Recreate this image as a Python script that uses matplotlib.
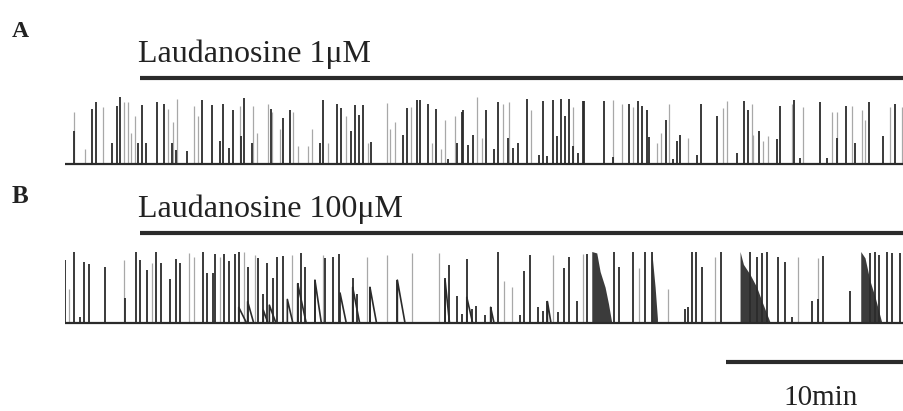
import matplotlib.pyplot as plt
import numpy as np

plt.rcParams['font.family'] = ['Liberation Serif', 'DejaVu Serif']

# time in minutes from start of record, height relative to largest spike
a_dark_t = [0.51, 1.54, 1.74, 2.62, 2.90, 3.09, 4.08, 4.31, 4.53, 5.15, 5.56, 6.03, 6.24, 6.84,
            7.68, 8.24, 8.71, 8.90, 9.19, 9.42, 9.87, 10.07, 10.52, 11.55, 12.27, 12.64, 14.33,
            14.51, 15.26, 15.51, 16.07, 16.29, 16.52, 16.72, 17.19, 18.97, 19.23, 19.76, 19.94,
            20.37, 20.82, 21.54, 22.00, 22.28, 22.38, 22.66, 22.94, 23.63, 24.12, 24.34, 24.91,
            25.15, 25.47, 25.94, 26.63, 26.84, 27.10, 27.43, 27.66, 27.85, 28.09, 28.31, 28.56,
            28.80, 29.08, 29.16, 30.28, 30.81, 31.69, 32.21, 32.43, 32.68, 32.83, 33.76, 34.18,
            34.36, 34.55, 35.49, 35.73, 36.61, 37.73, 38.15, 38.39, 39.01, 39.98, 40.17, 40.96,
            41.29, 42.42, 42.83, 43.35, 43.88, 44.38, 45.19, 45.94, 46.63]
a_dark_h = [0.49, 0.82, 0.92, 0.31, 0.86, 1.00, 0.32, 0.88, 0.32, 0.93, 0.90, 0.32, 0.21, 0.19,
            0.96, 0.88, 0.34, 0.90, 0.24, 0.81, 0.42, 0.98, 0.32, 0.82, 0.68, 0.80, 0.32,
            0.96, 0.90, 0.83, 0.49, 0.88, 0.73, 0.88, 0.33, 0.43, 0.83, 0.95, 0.95,
            0.90, 0.82, 0.07, 0.32, 0.77, 0.80, 0.29, 0.44, 0.80, 0.22, 0.92, 0.39,
            0.24, 0.32, 0.97, 0.13, 0.94, 0.12, 0.96, 0.42, 0.97, 0.72, 0.97, 0.27,
            0.17, 0.94, 0.94, 0.94, 0.11, 0.90, 0.94, 0.86, 0.80, 0.40, 0.65, 0.07,
            0.34, 0.44, 0.13, 0.90, 0.72, 0.17, 0.94, 0.81, 0.49, 0.37, 0.87, 0.96,
            0.09, 0.92, 0.09, 0.39, 0.86, 0.32, 0.92, 0.42, 0.89]
a_faint_t = [0.51, 1.12, 2.15, 3.31, 3.56, 3.71, 3.93, 5.81, 6.09, 6.27, 7.27, 7.47, 9.83, 10.58,
             10.77, 11.42, 11.65, 12.08, 12.79, 13.11, 13.67, 13.86, 14.79, 15.77, 17.04, 18.07,
             18.26, 18.54, 19.44, 20.60, 21.10, 21.35, 21.91, 23.13, 23.41, 24.59, 24.94, 26.16,
             28.52, 30.81, 31.27, 31.93, 33.24, 33.46, 33.95, 35.02, 36.95, 37.21, 38.58, 38.67,
             39.23, 39.51, 40.82, 41.44, 43.07, 43.35, 44.19, 44.76, 44.94, 46.35, 47.01]
a_faint_h = [0.77, 0.22, 0.85, 0.92, 0.92, 0.47, 0.72, 0.82, 0.62, 0.97, 0.87, 0.72, 0.87, 0.86,
             0.47, 0.90, 0.77, 0.52, 0.77, 0.27, 0.27, 0.52, 0.32, 0.72, 0.32, 0.91,
             0.52, 0.62, 0.85, 0.32, 0.22, 0.65, 0.72, 1.00, 0.39, 0.90, 0.92, 0.80,
             0.85, 0.95, 0.90, 0.85, 0.32, 0.47, 0.90, 0.39, 0.84, 0.94, 0.90, 0.44,
             0.34, 0.42, 0.90, 0.85, 0.77, 0.77, 0.87, 0.80, 0.65, 0.85, 0.85]

b_dark_t = [0.00, 0.51, 0.84, 1.09, 1.37, 2.25, 3.39, 3.99, 4.21, 4.59, 5.09, 5.37, 5.90, 6.22,
            6.46, 7.77, 8.00, 8.30, 8.43, 8.93, 9.21, 9.57, 9.76, 10.26, 10.86, 11.14, 11.33,
            11.70, 11.89, 12.23, 13.07, 13.26, 13.50, 14.04, 14.61, 15.07, 15.37, 16.16, 16.39,
            17.13, 18.67, 21.35, 21.57, 22.04, 22.28, 22.57, 22.85, 23.07, 23.60, 23.91, 24.34,
            25.56, 25.79, 26.12, 26.59, 26.87, 27.10, 27.72, 28.04, 28.31, 28.75, 29.34, 30.84,
            31.14, 31.89, 32.58, 32.96, 34.83, 35.02, 35.21, 35.43, 35.77, 36.85, 38.48, 38.86,
            39.14, 39.42, 40.07, 40.45, 40.82, 41.95, 42.32, 42.60, 44.10, 45.22, 45.51, 45.75,
            46.16, 46.44, 46.91]
b_dark_h = [0.88, 1.00, 0.09, 0.85, 0.83, 0.79, 0.35, 1.00, 0.88, 0.74, 0.99, 0.84, 0.61, 0.89,
            0.84, 0.99, 0.70, 0.70, 0.97, 0.97, 0.87, 0.97, 0.99, 0.79, 0.91, 0.40, 0.84,
            0.63, 0.93, 0.94, 0.56, 0.98, 0.79, 0.60, 0.91, 0.93, 0.97, 0.63, 0.40,
            0.51, 0.60, 0.63, 0.81, 0.38, 0.13, 0.90, 0.20, 0.24, 0.11, 0.22, 1.00,
            0.11, 0.73, 0.95, 0.22, 0.17, 0.31, 0.15, 0.77, 0.92, 0.31, 0.96, 1.00,
            0.79, 1.00, 0.99, 1.00, 0.20, 0.22, 1.00, 1.00, 0.78, 0.99, 1.00, 0.93,
            0.98, 1.00, 0.93, 0.86, 0.08, 0.31, 0.33, 0.94, 0.45, 0.98, 1.00, 0.95,
            1.00, 0.98, 0.98]
b_faint_t = [0.24, 3.31, 4.87, 6.99, 7.25, 8.71, 10.06, 10.67, 12.77, 14.48, 16.95, 18.07, 19.49,
             20.99, 24.68, 25.09, 27.40, 29.08, 32.25, 33.90, 36.52, 41.20, 42.32]
b_faint_h = [0.47, 0.88, 0.84, 0.98, 0.93, 0.93, 0.99, 0.95, 0.95, 0.95, 0.93, 0.95, 0.98,
             0.98, 0.59, 0.50, 0.95, 0.96, 0.77, 0.47, 0.93, 0.93, 0.91]

# slow after-potentials in B: onset, height, end of decay
tail_t0 = [9.76, 10.26, 11.14, 11.48, 12.49, 13.07, 14.04, 15.45, 16.16, 17.13, 18.67, 21.35,
           22.57, 23.91, 27.10]
tail_h = [0.22, 0.30, 0.18, 0.25, 0.33, 0.55, 0.60, 0.42, 0.50, 0.50, 0.60, 0.60,
          0.36, 0.22, 0.30]
tail_t1 = [10.20, 10.60, 11.40, 11.85, 12.80, 13.55, 14.40, 15.80, 16.55, 17.50, 19.10, 21.60,
           22.90, 24.10, 27.30]

# sustained bursts in B, upper envelope
burst_t = [[29.59, 29.87, 30.06, 30.34, 30.53, 30.71],
           [32.96, 33.15, 33.28],
           [37.92, 38.11, 38.48, 38.86, 39.14, 39.42, 39.61],
           [44.70, 44.94, 45.22, 45.51, 45.75, 45.88]]
burst_h = [[1.00, 0.98, 0.72, 0.50, 0.27, 0.01],
           [1.00, 0.50, 0.06],
           [1.00, 0.82, 0.68, 0.50, 0.31, 0.13, 0.01],
           [1.00, 0.91, 0.59, 0.36, 0.13, 0.01]]

t_end = 47.13
drug_start = 4.21
scale_len = 10

fig = plt.figure(figsize=(9.04, 4.11), dpi=100)
W, H = 904, 411
left = 65 / W

axA = fig.add_axes([left, 1 - 175 / H, 1 - left, 145 / H])
axB = fig.add_axes([left, 0, 1 - left, 221 / H])

dark = '#2b2b2b'
faint = '#a8a8a8'

for ax in (axA, axB):
    ax.set_xlim(0, t_end)
    ax.axis('off')

axA.set_ylim(-0.164, 2.0)
axB.set_ylim(-1.23, 1.86)

axA.vlines(a_faint_t, 0, a_faint_h, color=faint, lw=0.9)
axA.vlines(a_dark_t, 0, a_dark_h, color=dark, lw=1.3)
axA.plot([0, t_end], [0, 0], color=dark, lw=1.6)

axB.vlines(b_faint_t, 0, b_faint_h, color=faint, lw=0.9)
axB.vlines(b_dark_t, 0, b_dark_h, color=dark, lw=1.3)
for t0, h, t1 in zip(tail_t0, tail_h, tail_t1):
    axB.plot([t0, t0, t1], [0, h, 0], color=dark, lw=1.2)
for bt, bh in zip(burst_t, burst_h):
    axB.fill_between(bt, 0, bh, color='#262626', alpha=0.9, lw=0)
axB.plot([0, t_end], [0, 0], color=dark, lw=1.6)

# drug application bars
axA.plot([drug_start, t_end], [1.28, 1.28], color=dark, lw=3, solid_capstyle='butt', clip_on=False)
axB.plot([drug_start, t_end], [1.26, 1.26], color=dark, lw=3, solid_capstyle='butt', clip_on=False)
axA.text(drug_start - 0.1, 1.52, 'Laudanosine 1\u03bcM', fontsize=23, color='#222', va='baseline')
axB.text(drug_start - 0.1, 1.48, 'Laudanosine 100\u03bcM', fontsize=23, color='#222', va='baseline')

# scale bar
axB.plot([t_end - scale_len, t_end], [-0.545, -0.545], color=dark, lw=3, solid_capstyle='butt',
         clip_on=False)
axB.text(t_end - scale_len / 2 + 0.3, -1.14, '10min', fontsize=21, color='#222', ha='center',
         va='baseline')

fig.text(12 / W, 1 - 37 / H, 'A', fontsize=17, fontweight='bold', color='#222')
fig.text(12 / W, 1 - 203 / H, 'B', fontsize=18, fontweight='bold', color='#222')

fig.savefig('out.png', dpi=100, facecolor='white')
